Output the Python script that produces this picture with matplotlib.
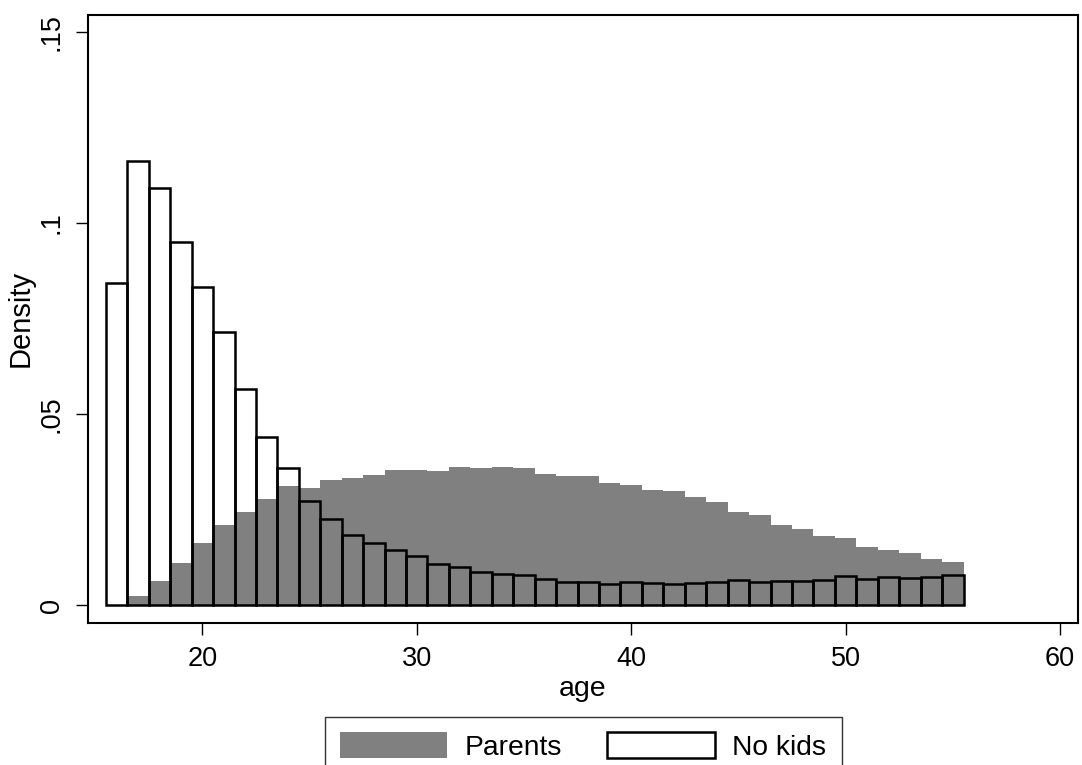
import matplotlib
matplotlib.use("Agg")
import matplotlib.pyplot as plt
from matplotlib.patches import Patch

plt.rcParams["font.family"] = ["Liberation Sans", "DejaVu Sans"]

# Age bins (width 1, centred on integers)
AGES = list(range(16, 56))

PARENTS = [
	0.0, 0.0024, 0.0063, 0.0112, 0.0163, 0.0209, 0.0244, 0.0279, 0.0312, 0.0307,
	0.0327, 0.0334, 0.0342, 0.0353, 0.0353, 0.0351, 0.0363, 0.0359, 0.0363, 0.0359,
	0.0344, 0.0338, 0.0338, 0.0319, 0.0314, 0.0301, 0.0298, 0.0284, 0.0271, 0.0244,
	0.0237, 0.0209, 0.0200, 0.0182, 0.0175, 0.0153, 0.0144, 0.0136, 0.0120, 0.0113,
]

NO_KIDS = [
	0.0844, 0.1161, 0.1091, 0.0951, 0.0833, 0.0716, 0.0567, 0.0439, 0.0358, 0.0272,
	0.0227, 0.0184, 0.0164, 0.0144, 0.0128, 0.0109, 0.0099, 0.0088, 0.0081, 0.0078,
	0.0068, 0.0062, 0.0062, 0.0057, 0.0062, 0.0058, 0.0055, 0.0058, 0.0060, 0.0067,
	0.0062, 0.0064, 0.0064, 0.0067, 0.0076, 0.0069, 0.0074, 0.0072, 0.0074, 0.0078,
]

X_TICKS = [20, 30, 40, 50, 60]
Y_TICKS = [0, 0.05, 0.1, 0.15]
Y_TICK_LABELS = ["0", ".05", ".1", ".15"]

GRAY = "#808080"
FS = 19.5
LEG_FS = 20.3

fig = plt.figure(figsize=(10.82, 7.65), dpi=100)
ax = fig.add_axes([0.0811, 0.1860, 0.9150, 0.7948])

ax.bar(AGES, PARENTS, width=1.0, color=GRAY, linewidth=0, zorder=2)
ax.bar(AGES, NO_KIDS, width=1.0, facecolor="none", edgecolor="black",
	linewidth=1.8, zorder=3)

ax.set_xlim(14.655, 60.83)
ax.set_ylim(-0.00455, 0.1545)

ax.set_xticks(X_TICKS)
ax.set_yticks(Y_TICKS)
ax.set_yticklabels(Y_TICK_LABELS, rotation=90, va="center")
ax.tick_params(axis="both", direction="out", length=8.5, width=1.0,
	labelsize=FS, color="black")
ax.tick_params(axis="x", pad=8)
ax.tick_params(axis="y", pad=8)

for spine in ax.spines.values():
	spine.set_linewidth(1.5)
	spine.set_color("black")

ax.set_xlabel("age", fontsize=20.5, labelpad=3)
ax.set_ylabel("Density", fontsize=21, labelpad=3)

handles = [
	Patch(facecolor=GRAY, edgecolor="none", label="Parents"),
	Patch(facecolor="white", edgecolor="black", linewidth=1.8, label="No kids"),
]
leg = fig.legend(handles=handles, ncol=2, loc="upper center",
	bbox_to_anchor=(0.539, 0.063), fontsize=LEG_FS, frameon=True, fancybox=False,
	handlelength=3.8, handleheight=1.0, handletextpad=0.62,
	columnspacing=1.6, borderpad=0.55, borderaxespad=0)
leg.get_frame().set_edgecolor("black")
leg.get_frame().set_linewidth(1.0)

fig.savefig("out.png", dpi=100)
